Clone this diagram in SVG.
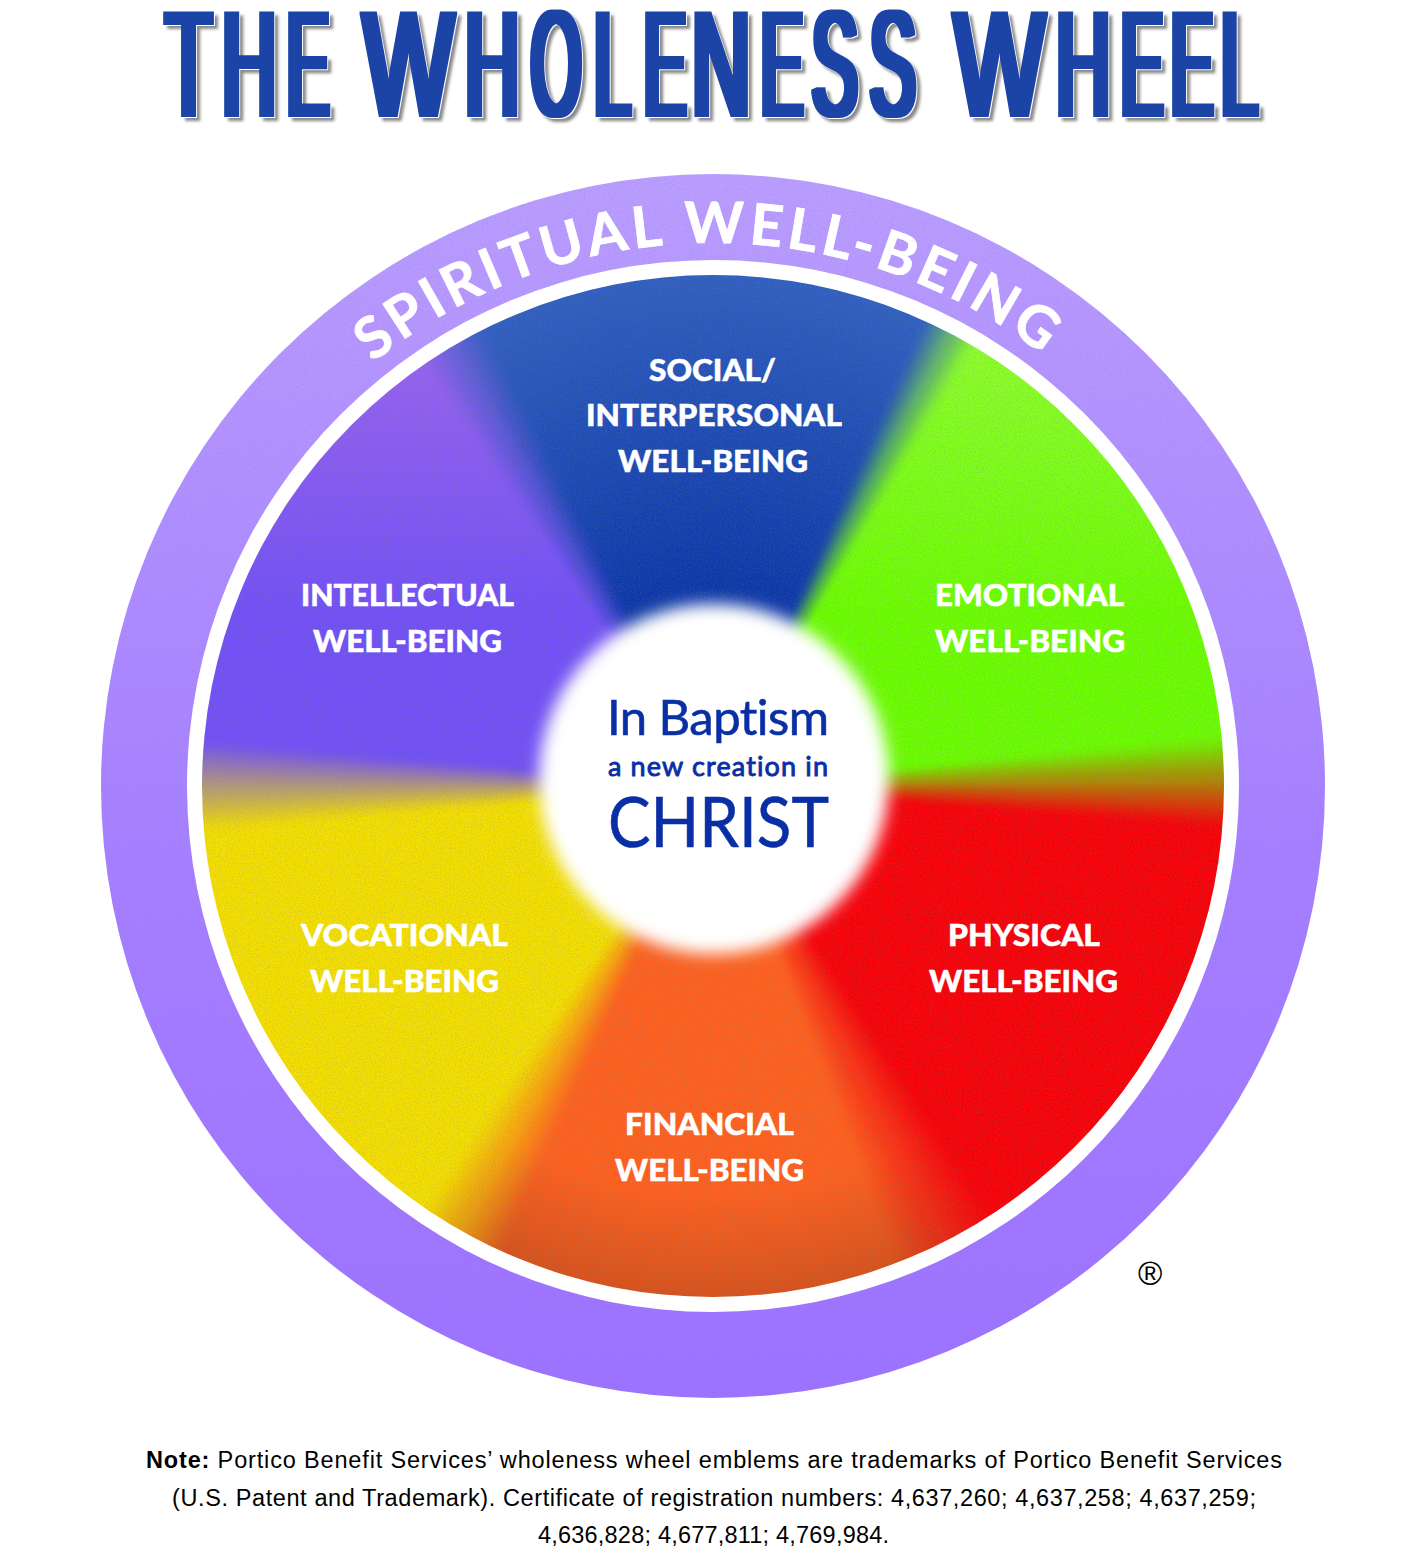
<svg xmlns="http://www.w3.org/2000/svg" xmlns:xlink="http://www.w3.org/1999/xlink" width="1425" height="1550" viewBox="0 0 1425 1550">
<style>
.lab{font-family:Lato,"Liberation Sans",sans-serif;font-weight:900;font-size:31px;fill:#fff;stroke:#fff;stroke-width:.5}
.hub{font-family:Lato,"Liberation Sans",sans-serif;fill:#0a2fa5;font-variant-ligatures:none;stroke:#0a2fa5}
.note{font-family:"Liberation Sans",Arial,sans-serif;font-size:23.5px;fill:#000}
.b{fill:url(#blueR)}.g{fill:url(#greenR)}.p{fill:url(#purpleR)}.o{fill:url(#orangeR)}
.gf{fill:#6cff00}.pf{fill:#7150f8}.yf{fill:#f5e000}.rf{fill:#f80008}
</style>
<defs>
<path id="w" d="M0 0L620 -5.6V5.6Z"/>
<radialGradient id="blueR" gradientUnits="userSpaceOnUse" cx="0" cy="0" r="511"><stop offset=".33" stop-color="#0833a8"/><stop offset=".65" stop-color="#1a48b4"/><stop offset="1" stop-color="#305fc2"/></radialGradient>
<radialGradient id="greenR" gradientUnits="userSpaceOnUse" cx="0" cy="0" r="511"><stop offset=".4" stop-color="#6cff00"/><stop offset="1" stop-color="#8fff2e"/></radialGradient>
<radialGradient id="purpleR" gradientUnits="userSpaceOnUse" cx="0" cy="0" r="511"><stop offset=".4" stop-color="#7150f8"/><stop offset="1" stop-color="#9862f2"/></radialGradient>
<radialGradient id="orangeR" gradientUnits="userSpaceOnUse" cx="0" cy="0" r="511"><stop offset=".4" stop-color="#ff601e"/><stop offset=".8" stop-color="#ff601e"/><stop offset="1" stop-color="#d8521c"/></radialGradient>
<linearGradient id="ring" x1="0" y1="0" x2="0" y2="1"><stop offset="0" stop-color="#bb9ffd"/><stop offset=".55" stop-color="#a680ff"/><stop offset="1" stop-color="#9c72ff"/></linearGradient>
<linearGradient id="greenL" gradientUnits="userSpaceOnUse" x1="0" y1="-450" x2="0" y2="-170"><stop offset="0" stop-color="#8fff2e"/><stop offset="1" stop-color="#6cff00"/></linearGradient>
<linearGradient id="purpleL" gradientUnits="userSpaceOnUse" x1="0" y1="-430" x2="0" y2="-170"><stop offset="0" stop-color="#9862f2"/><stop offset="1" stop-color="#7150f8"/></linearGradient>
<clipPath id="disc"><circle cx="713" cy="786" r="511"/></clipPath>
<path id="arc" d="M170 786A543 543 0 0 1 1256 786"/>
<filter id="grain" x="-5%" y="-5%" width="110%" height="110%" color-interpolation-filters="sRGB">
<feGaussianBlur in="SourceGraphic" stdDeviation="3" result="bl"/>
<feTurbulence type="fractalNoise" baseFrequency=".8" numOctaves="2" seed="4"/>
<feColorMatrix type="matrix" values="0 0 0 0 .5  0 0 0 0 .5  0 0 0 0 .5  .6 0 0 0 -.25"/>
<feComposite in2="bl" operator="in" result="n"/>
<feMerge><feMergeNode in="bl"/><feMergeNode in="n"/></feMerge>
</filter>
<filter id="ringGrain" x="-5%" y="-5%" width="110%" height="110%" color-interpolation-filters="sRGB">
<feTurbulence type="fractalNoise" baseFrequency=".7" numOctaves="2" seed="9"/>
<feColorMatrix type="matrix" values="0 0 0 0 .6  0 0 0 0 .48  0 0 0 0 .95  .8 0 0 0 -.34"/>
<feComposite in2="SourceGraphic" operator="in" result="n"/>
<feMerge><feMergeNode in="SourceGraphic"/><feMergeNode in="n"/></feMerge>
</filter>
<filter id="soft" x="-20%" y="-20%" width="140%" height="140%"><feGaussianBlur stdDeviation="8"/></filter>
<filter id="titleFx" x="-3%" y="-10%" width="106%" height="125%" color-interpolation-filters="sRGB">
<feMorphology in="SourceGraphic" operator="dilate" radius="4 1" result="d"/>
<feOffset in="d" dx="3.5" dy="4"/><feGaussianBlur stdDeviation="1.6"/><feColorMatrix type="matrix" values="0 0 0 0 .45  0 0 0 0 .45  0 0 0 0 .45  0 0 0 .85 0" result="s"/>
<feOffset in="d" dx="1.3" dy="1.2"/><feColorMatrix type="matrix" values="0 0 0 0 1  0 0 0 0 1  0 0 0 0 1  0 0 0 1 0" result="wh"/>
<feMerge><feMergeNode in="s"/><feMergeNode in="wh"/><feMergeNode in="d"/></feMerge>
</filter>
</defs>
<rect width="1425" height="1550" fill="#fff"/>
<g id="title"><text y="116" font-family="'Liberation Sans',Arial,sans-serif" font-weight="400" font-size="150" fill="#1c44a6" filter="url(#titleFx)"><tspan x="165.4" textLength="46.2" lengthAdjust="spacingAndGlyphs">T</tspan><tspan x="222" textLength="54.4" lengthAdjust="spacingAndGlyphs">H</tspan><tspan x="287" textLength="42" lengthAdjust="spacingAndGlyphs">E</tspan><tspan x="333"> </tspan><tspan x="363.1" textLength="90.7" lengthAdjust="spacingAndGlyphs">W</tspan><tspan x="465" textLength="54.4" lengthAdjust="spacingAndGlyphs">H</tspan><tspan x="530.9" textLength="50.2" lengthAdjust="spacingAndGlyphs">O</tspan><tspan x="594.2" textLength="36.3" lengthAdjust="spacingAndGlyphs">L</tspan><tspan x="644" textLength="42" lengthAdjust="spacingAndGlyphs">E</tspan><tspan x="691.8" textLength="58.7" lengthAdjust="spacingAndGlyphs">N</tspan><tspan x="761" textLength="42" lengthAdjust="spacingAndGlyphs">E</tspan><tspan x="812" textLength="45.5" lengthAdjust="spacingAndGlyphs">S</tspan><tspan x="870" textLength="45.5" lengthAdjust="spacingAndGlyphs">S</tspan><tspan x="925"> </tspan><tspan x="954.1" textLength="90.7" lengthAdjust="spacingAndGlyphs">W</tspan><tspan x="1056" textLength="54.4" lengthAdjust="spacingAndGlyphs">H</tspan><tspan x="1121" textLength="42" lengthAdjust="spacingAndGlyphs">E</tspan><tspan x="1171" textLength="42" lengthAdjust="spacingAndGlyphs">E</tspan><tspan x="1221.2" textLength="36.3" lengthAdjust="spacingAndGlyphs">L</tspan></text></g>
<g id="spiritual-ring">
<circle cx="713" cy="786" r="612" fill="url(#ring)" filter="url(#ringGrain)"/>
<circle cx="713" cy="786" r="526" fill="#fff"/>
<text transform="rotate(-.5 713 786)" font-family="Lato,'Liberation Sans',sans-serif" font-weight="700" font-size="57" fill="#fff" stroke="#fff" stroke-width=".8" text-anchor="middle" letter-spacing="4.5"><textPath href="#arc" xlink:href="#arc" startOffset="50%">SPIRITUAL WELL-BEING</textPath></text>
</g>
<g id="wheel" clip-path="url(#disc)">
<g transform="translate(713 786)" filter="url(#grain)">
<path class="b" d="M0 0L-315 -534V-640H286V-550Z"/>
<path fill="url(#greenL)" d="M0 0L286 -550H620V-5Z"/>
<path class="rf" d="M0 0L620 -5V552H281Z"/>
<path class="o" d="M0 0L281 552V640H-304V540Z"/>
<path class="yf" d="M0 0L-304 540H-620V0Z"/>
<path fill="url(#purpleL)" d="M0 0L-620 0V-640H-315V-534Z"/>
<!-- blue / green -->
<use href="#w" class="g" transform="rotate(-65)" opacity=".08"/><use href="#w" class="g" transform="rotate(-64)" opacity=".25"/><use href="#w" class="g" transform="rotate(-63)" opacity=".42"/>
<use href="#w" class="b" transform="rotate(-62)" opacity=".42"/><use href="#w" class="b" transform="rotate(-61)" opacity=".25"/><use href="#w" class="b" transform="rotate(-60)" opacity=".08"/>
<!-- green / red -->
<use href="#w" class="rf" transform="rotate(-5)" opacity=".05"/><use href="#w" class="rf" transform="rotate(-4)" opacity=".15"/><use href="#w" class="rf" transform="rotate(-3)" opacity=".25"/><use href="#w" class="rf" transform="rotate(-2)" opacity=".35"/><use href="#w" class="rf" transform="rotate(-1)" opacity=".45"/>
<use href="#w" class="gf" transform="rotate(0)" opacity=".45"/><use href="#w" class="gf" transform="rotate(1)" opacity=".35"/><use href="#w" class="gf" transform="rotate(2)" opacity=".25"/><use href="#w" class="gf" transform="rotate(3)" opacity=".15"/><use href="#w" class="gf" transform="rotate(4)" opacity=".05"/>
<!-- red / orange -->
<use href="#w" class="o" transform="rotate(57.5)" opacity=".04"/><use href="#w" class="o" transform="rotate(58.5)" opacity=".13"/><use href="#w" class="o" transform="rotate(59.5)" opacity=".21"/><use href="#w" class="o" transform="rotate(60.5)" opacity=".29"/><use href="#w" class="o" transform="rotate(61.5)" opacity=".38"/><use href="#w" class="o" transform="rotate(62.5)" opacity=".46"/>
<use href="#w" class="rf" transform="rotate(63.5)" opacity=".46"/><use href="#w" class="rf" transform="rotate(64.5)" opacity=".38"/><use href="#w" class="rf" transform="rotate(65.5)" opacity=".29"/><use href="#w" class="rf" transform="rotate(66.5)" opacity=".21"/><use href="#w" class="rf" transform="rotate(67.5)" opacity=".13"/><use href="#w" class="rf" transform="rotate(68.5)" opacity=".04"/>
<!-- orange / yellow -->
<use href="#w" class="yf" transform="rotate(114.9)" opacity=".05"/><use href="#w" class="yf" transform="rotate(115.9)" opacity=".15"/><use href="#w" class="yf" transform="rotate(116.9)" opacity=".25"/><use href="#w" class="yf" transform="rotate(117.9)" opacity=".35"/><use href="#w" class="yf" transform="rotate(118.9)" opacity=".45"/>
<use href="#w" class="o" transform="rotate(119.9)" opacity=".45"/><use href="#w" class="o" transform="rotate(120.9)" opacity=".35"/><use href="#w" class="o" transform="rotate(121.9)" opacity=".25"/><use href="#w" class="o" transform="rotate(122.9)" opacity=".15"/><use href="#w" class="o" transform="rotate(123.9)" opacity=".05"/>
<!-- yellow / purple -->
<use href="#w" class="pf" transform="rotate(175.5)" opacity=".05"/><use href="#w" class="pf" transform="rotate(176.5)" opacity=".15"/><use href="#w" class="pf" transform="rotate(177.5)" opacity=".25"/><use href="#w" class="pf" transform="rotate(178.5)" opacity=".35"/><use href="#w" class="pf" transform="rotate(179.5)" opacity=".45"/>
<use href="#w" class="yf" transform="rotate(180.5)" opacity=".45"/><use href="#w" class="yf" transform="rotate(181.5)" opacity=".35"/><use href="#w" class="yf" transform="rotate(182.5)" opacity=".25"/><use href="#w" class="yf" transform="rotate(183.5)" opacity=".15"/><use href="#w" class="yf" transform="rotate(184.5)" opacity=".05"/>
<!-- purple / blue -->
<use href="#w" class="b" transform="rotate(-124)" opacity=".06"/><use href="#w" class="b" transform="rotate(-123)" opacity=".19"/><use href="#w" class="b" transform="rotate(-122)" opacity=".31"/><use href="#w" class="b" transform="rotate(-121)" opacity=".44"/>
<use href="#w" class="p" transform="rotate(-120)" opacity=".44"/><use href="#w" class="p" transform="rotate(-119)" opacity=".31"/><use href="#w" class="p" transform="rotate(-118)" opacity=".19"/><use href="#w" class="p" transform="rotate(-117)" opacity=".06"/>
</g>
</g>
<g id="social"><text class="lab" x="649" y="381" textLength="127" lengthAdjust="spacingAndGlyphs">SOCIAL/</text><text class="lab" x="586" y="426" textLength="256" lengthAdjust="spacingAndGlyphs">INTERPERSONAL</text><text class="lab" x="618" y="472" textLength="190" lengthAdjust="spacingAndGlyphs">WELL-BEING</text></g>
<g id="emotional"><text class="lab" x="935" y="606" textLength="189" lengthAdjust="spacingAndGlyphs">EMOTIONAL</text><text class="lab" x="935" y="652" textLength="190" lengthAdjust="spacingAndGlyphs">WELL-BEING</text></g>
<g id="physical"><text class="lab" x="948" y="946" textLength="152" lengthAdjust="spacingAndGlyphs">PHYSICAL</text><text class="lab" x="929" y="992" textLength="189" lengthAdjust="spacingAndGlyphs">WELL-BEING</text></g>
<g id="financial"><text class="lab" x="625" y="1135" textLength="169" lengthAdjust="spacingAndGlyphs">FINANCIAL</text><text class="lab" x="615" y="1181" textLength="189" lengthAdjust="spacingAndGlyphs">WELL-BEING</text></g>
<g id="vocational"><text class="lab" x="301" y="946" textLength="207" lengthAdjust="spacingAndGlyphs">VOCATIONAL</text><text class="lab" x="310" y="992" textLength="189" lengthAdjust="spacingAndGlyphs">WELL-BEING</text></g>
<g id="intellectual"><text class="lab" x="301" y="606" textLength="213" lengthAdjust="spacingAndGlyphs">INTELLECTUAL</text><text class="lab" x="313" y="652" textLength="189" lengthAdjust="spacingAndGlyphs">WELL-BEING</text></g>
<g id="hub">
<circle cx="714" cy="779" r="175" fill="#fff" filter="url(#soft)"/>
<text class="hub" x="607" y="735" font-size="49" font-weight="400" stroke-width=".6" textLength="222" lengthAdjust="spacing">In Baptism</text>
<text class="hub" x="608" y="776" font-size="27" font-weight="400" stroke-width=".9" textLength="220" lengthAdjust="spacing">a new creation in</text>
<text class="hub" x="608" y="847" font-size="70" font-weight="400" stroke-width=".6" textLength="221" lengthAdjust="spacingAndGlyphs">CHRIST</text>
</g>
<g id="registered"><text x="1138" y="1285" font-family="'Liberation Sans',Arial,sans-serif" font-size="33" fill="#000">®</text></g>
<g id="note">
<text class="note" x="146" y="1468" textLength="1136" lengthAdjust="spacing"><tspan font-weight="700">Note:</tspan> Portico Benefit Services’ wholeness wheel emblems are trademarks of Portico Benefit Services</text>
<text class="note" x="172" y="1506" textLength="1084" lengthAdjust="spacing">(U.S. Patent and Trademark). Certificate of registration numbers: 4,637,260; 4,637,258; 4,637,259;</text>
<text class="note" x="538" y="1543" textLength="351" lengthAdjust="spacing">4,636,828; 4,677,811; 4,769,984.</text>
</g>
</svg>
